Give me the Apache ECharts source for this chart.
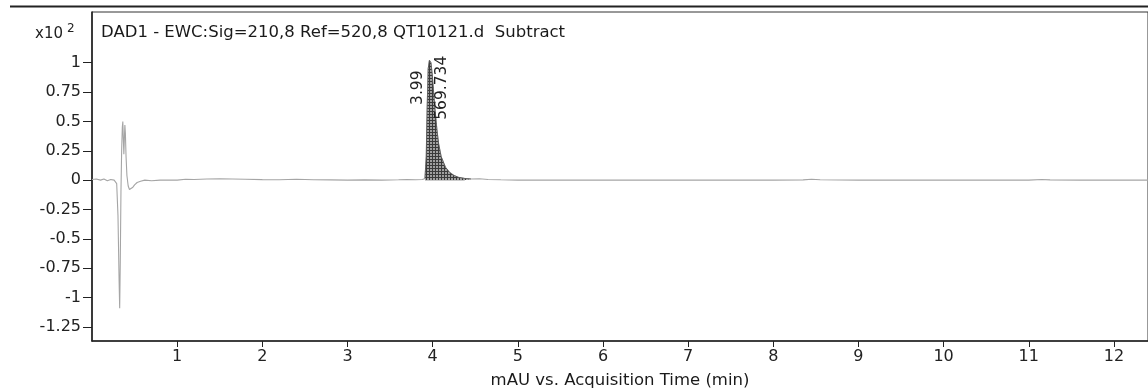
<!DOCTYPE html>
<html><head><meta charset="utf-8">
<script src="https://cdn.jsdelivr.net/npm/echarts@6/dist/echarts.min.js"></script>
<style>html,body{margin:0;padding:0;background:#fff;}#c{width:1148px;height:389px;}</style>
</head><body><div id="c"></div>
<script>
// Chromatogram trace: acquisition time (min) and signal (x10^2 mAU)
const times = [0.00,0.05,0.10,0.14,0.18,0.22,0.26,0.29,0.305,0.318,0.325,0.332,0.34,0.348,0.356,0.362,0.368,0.374,0.38,0.386,0.392,0.40,0.41,0.425,0.44,0.46,0.48,0.50,0.53,0.57,0.62,0.70,0.80,0.90,1.00,1.10,1.20,1.35,1.50,1.65,1.80,2.00,2.20,2.40,2.60,2.80,3.00,3.20,3.40,3.60,3.70,3.80,3.88,3.91,3.925,3.935,3.948,3.962,3.98,3.995,4.01,4.03,4.05,4.07,4.10,4.15,4.20,4.25,4.30,4.37,4.45,4.55,4.65,4.80,5.00,5.50,6.00,6.50,7.00,7.50,8.00,8.35,8.45,8.55,9.00,9.50,10.00,10.50,11.00,11.15,11.25,11.60,12.00,12.40];
const signal = [0.005,0.01,0.0,0.01,-0.005,0.005,0.0,-0.03,-0.3,-0.85,-1.09,-0.7,-0.1,0.25,0.45,0.50,0.35,0.22,0.35,0.47,0.40,0.2,0.04,-0.05,-0.08,-0.085,-0.06,-0.04,-0.02,-0.01,0.0,-0.005,0.0,0.0,0.0,0.008,0.005,0.01,0.012,0.01,0.008,0.004,0.003,0.008,0.003,0.002,0.0,0.002,0.0,0.003,0.006,0.003,0.005,0.015,0.2,0.6,0.95,1.02,1.0,0.9,0.76,0.58,0.43,0.31,0.20,0.11,0.065,0.04,0.025,0.015,0.01,0.012,0.006,0.003,0.0,0.0,0.001,0.0,0.0,0.0,0.0,0.002,0.008,0.003,0.0,0.0,0.0,0.0,0.0,0.006,0.002,0.0,0.0,0.0];
// Integrated peak
const peakStart = 3.91, peakEnd = 4.45;
const peakRT = 3.99, peakArea = '569.734', peakApex = 1.0;
// Axis ticks
const yTicks = [-1.25,-1,-0.75,-0.5,-0.25,0,0.25,0.5,0.75,1];
const xTicks = [1,2,3,4,5,6,7,8,9,10,11,12];
const titleText = 'DAD1 - EWC:Sig=210,8 Ref=520,8 QT10121.d  Subtract';
const xName = 'mAU vs. Acquisition Time (min)';

const trace = times.map((t,i)=>[t, signal[i]]);
const peak = trace.filter(p => p[0] >= peakStart && p[0] <= peakEnd);

const pc = document.createElement('canvas');
pc.width = 3; pc.height = 3;
const g = pc.getContext('2d');
g.fillStyle = '#a0a0a0'; g.fillRect(0,0,3,3);
g.fillStyle = '#3a3a3a'; g.fillRect(0,0,3,1); g.fillRect(0,0,1,3);

const FONT = '"DejaVu Sans", Verdana, sans-serif';
const chart = echarts.init(document.getElementById('c'), null, {renderer:'canvas'});
chart.setOption({
  animation:false,
  backgroundColor:'#fff',
  title:{text:titleText, left:96, top:19, textStyle:{fontFamily:FONT, fontSize:16.5, fontWeight:'normal', color:'#1a1a1a'}},
  grid:{left:92, right:0, top:12, bottom:48, outerBoundsMode:'none', containLabel:false,
    show:true, borderColor:'#333', borderWidth:1, backgroundColor:'transparent'},
  xAxis:{type:'value', min:0, max:12.4,
    axisLine:{onZero:false, lineStyle:{color:'#222', width:1.6}},
    axisTick:{show:true, length:6, customValues:xTicks, lineStyle:{color:'#222'}},
    axisLabel:{fontFamily:FONT, fontSize:16, color:'#222', margin:8, customValues:xTicks,
      formatter:v => String(v)},
    splitLine:{show:false},
    name:xName, nameLocation:'middle', nameGap:31,
    nameTextStyle:{fontFamily:FONT, fontSize:16.5, color:'#1a1a1a'}},
  yAxis:{type:'value', min:-1.37, max:1.432,
    axisLine:{show:true, lineStyle:{color:'#222', width:1.6}},
    axisTick:{show:true, length:9, customValues:yTicks, lineStyle:{color:'#222'}},
    axisLabel:{fontFamily:FONT, fontSize:16, color:'#222', margin:11, customValues:yTicks,
      formatter:v => String(v)},
    splitLine:{show:false}},
  graphic:[
    {type:'line', shape:{x1:10,y1:6.5,x2:1148,y2:6.5}, style:{stroke:'#222', lineWidth:2}},
    {type:'text', x:35, y:34, style:{text:'x10', font:'15px '+FONT, fill:'#222', verticalAlign:'middle'}},
    {type:'text', x:67, y:29, style:{text:'2', font:'12px '+FONT, fill:'#222', verticalAlign:'middle'}}
  ],
  series:[
    {type:'line', data:trace, showSymbol:false, lineStyle:{color:'#a5a5a5', width:1.1}, z:2},
    {type:'line', data:peak, showSymbol:false, lineStyle:{color:'#555', width:0.8},
      areaStyle:{origin:0, color:{image:pc, repeat:'repeat'}, opacity:1}, z:3,
      markPoint:{symbol:'circle', symbolSize:1, itemStyle:{color:'rgba(0,0,0,0)'},
        data:[
          {coord:[peakRT, peakApex], label:{show:true, formatter:String(peakRT), rotate:90, offset:[-25,-13.5], fontFamily:FONT, fontSize:15.5, color:'#222'}},
          {coord:[peakRT, peakApex], label:{show:true, formatter:peakArea, rotate:90, offset:[-25,10.5], fontFamily:FONT, fontSize:15.5, color:'#222'}}
        ]}}
  ]
});
</script></body></html>
